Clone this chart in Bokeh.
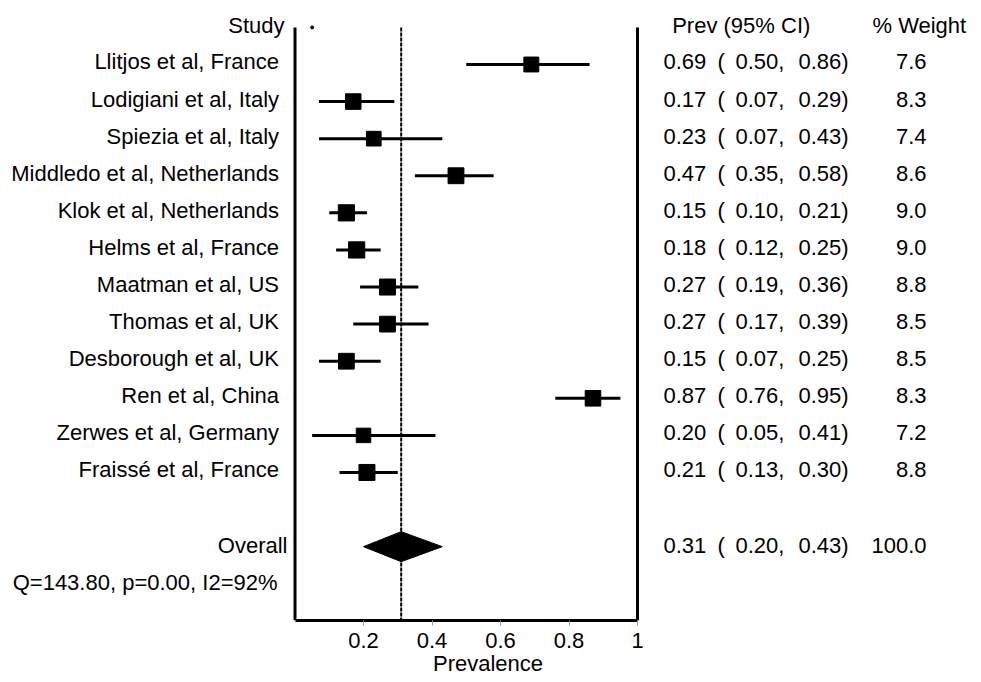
import math
from bokeh.plotting import figure
from bokeh.models import ColumnDataSource, Range1d, LinearAxis, FixedTicker, CustomJSTickFormatter
from bokeh.core.properties import value
from bokeh.embed import file_html
from bokeh.resources import INLINE

# ---------------- data ----------------
studies = [
    "Llitjos et al, France",
    "Lodigiani et al, Italy",
    "Spiezia et al, Italy",
    "Middledo et al, Netherlands",
    "Klok et al, Netherlands",
    "Helms et al, France",
    "Maatman et al, US",
    "Thomas et al, UK",
    "Desborough et al, UK",
    "Ren et al, China",
    "Zerwes et al, Germany",
    "Fraissé et al, France",
]
prev = [0.69, 0.17, 0.23, 0.47, 0.15, 0.18, 0.27, 0.27, 0.15, 0.87, 0.20, 0.21]
lower = [0.50, 0.07, 0.07, 0.35, 0.10, 0.12, 0.19, 0.17, 0.07, 0.76, 0.05, 0.13]
upper = [0.86, 0.29, 0.43, 0.58, 0.21, 0.25, 0.36, 0.39, 0.25, 0.95, 0.41, 0.30]
weight = [7.6, 8.3, 7.4, 8.6, 9.0, 9.0, 8.8, 8.5, 8.5, 8.3, 7.2, 8.8]

overall_label = "Overall"
overall_prev = 0.31
overall_lower = 0.20
overall_upper = 0.43
overall_weight = 100.0
heterogeneity = "Q=143.80, p=0.00, I2=92%"

header_study = "Study"
header_ci = "Prev (95% CI)"
header_weight = "% Weight"
x_ticks = [0.2, 0.4, 0.6, 0.8, 1.0]
x_label = "Prevalence"

# ---------------- layout ----------------
FONT = "Liberation Sans"
FS = "22px"
n = len(studies)
rows = list(range(1, n + 1))
row_overall = n + 2
row_het = n + 3
y_bottom = 15.991
y_top = -0.7253

p = figure(
    frame_width=975, frame_height=620,
    x_range=Range1d(-0.8599, 1.98686),
    y_range=Range1d(y_bottom, y_top),
    x_axis_type=None, y_axis_type=None,
    output_backend="svg", toolbar_location=None,
    min_border=0,
)
p.outline_line_color = None
p.background_fill_color = "white"

axis = LinearAxis(
    ticker=FixedTicker(ticks=x_ticks),
    formatter=CustomJSTickFormatter(code="return Math.abs(tick - 1) < 1e-9 ? '1' : tick.toFixed(1);"),
    bounds=(0, 1),
)
axis.axis_line_width = 3
axis.axis_line_color = "black"
axis.major_tick_line_color = "#999999"
axis.major_tick_line_width = 1
axis.major_tick_out = 5
axis.major_tick_in = 0
axis.minor_tick_line_color = None
axis.major_label_text_font = FONT
axis.major_label_text_font_size = FS
axis.major_label_text_color = "black"
axis.major_label_standoff = 7
axis.axis_label = x_label
axis.axis_label_text_font = FONT
axis.axis_label_text_font_size = FS
axis.axis_label_text_font_style = "normal"
axis.axis_label_text_color = "black"
axis.axis_label_standoff = 0
p.add_layout(axis, "below")

# frame lines
p.segment(x0=[0, 1], y0=[0, 0], x1=[0, 1], y1=[y_bottom, y_bottom],
          line_color="black", line_width=3)
# overall reference line
p.segment(x0=[overall_prev], y0=[0], x1=[overall_prev], y1=[y_bottom],
          line_color="black", line_width=2, line_dash="4 1")
p.scatter(x=[0.05], y=[0], size=3, marker="circle", color="black")

src = ColumnDataSource(dict(
    study=studies, prev=prev, lower=lower, upper=upper, weight=weight, row=rows,
    size=[5.4 * math.sqrt(w) for w in weight],
    prev_txt=[f"{v:.2f}" for v in prev],
    lo_txt=[f"{v:.2f}," for v in lower],
    hi_txt=[f"{v:.2f})" for v in upper],
    paren=["("] * n,
    w_txt=[f"{w:.1f}" for w in weight],
))

p.segment(x0="lower", y0="row", x1="upper", y1="row", source=src,
          line_color="black", line_width=3)
p.scatter(x="prev", y="row", size="size", marker="square", source=src,
          fill_color="black", line_color="black")

# overall diamond
h = 0.404
p.patch(x=[overall_lower, overall_prev, overall_upper, overall_prev],
        y=[row_overall, row_overall - h, row_overall, row_overall + h],
        fill_color="black", line_color="black")

common = dict(text_font=value(FONT), text_font_size=FS, text_color="black",
              text_baseline="alphabetic")
OFF_ROW = -2.5
OFF_HEAD = -2.0
OFF_OV = -1.5

# left labels
p.text(x=-0.0467, y="row", text="study", source=src, text_align="right", y_offset=OFF_ROW, **common)
p.text(x=[-0.0307], y=[0], text=[header_study], text_align="right", y_offset=OFF_HEAD, **common)
p.text(x=[-0.0219], y=[row_overall], text=[overall_label], text_align="right", y_offset=OFF_OV, **common)
p.text(x=[-0.0511], y=[row_het], text=[heterogeneity], text_align="right", y_offset=OFF_OV, **common)

# right columns
X_EST, X_PAR, X_LO, X_HI, X_W = 1.0759, 1.2336, 1.2861, 1.4701, 1.8438
p.text(x=[1.1013], y=[0], text=[header_ci], text_align="left", y_offset=OFF_HEAD, **common)
p.text(x=[1.686], y=[0], text=[header_weight], text_align="left", y_offset=OFF_HEAD, **common)
p.text(x=X_EST, y="row", text="prev_txt", source=src, text_align="left", y_offset=OFF_ROW, **common)
p.text(x=X_PAR, y="row", text="paren", source=src, text_align="left", y_offset=OFF_ROW, **common)
p.text(x=X_LO, y="row", text="lo_txt", source=src, text_align="left", y_offset=OFF_ROW, **common)
p.text(x=X_HI, y="row", text="hi_txt", source=src, text_align="left", y_offset=OFF_ROW, **common)
p.text(x=X_W, y="row", text="w_txt", source=src, text_align="right", y_offset=OFF_ROW, **common)

ov = dict(y=[row_overall], y_offset=OFF_OV, **common)
p.text(x=[X_EST], text=[f"{overall_prev:.2f}"], text_align="left", **ov)
p.text(x=[X_PAR], text=["("], text_align="left", **ov)
p.text(x=[X_LO], text=[f"{overall_lower:.2f},"], text_align="left", **ov)
p.text(x=[X_HI], text=[f"{overall_upper:.2f})"], text_align="left", **ov)
p.text(x=[X_W], text=[f"{overall_weight:.1f}"], text_align="right", **ov)

open("out.html", "w").write(file_html(p, INLINE))
